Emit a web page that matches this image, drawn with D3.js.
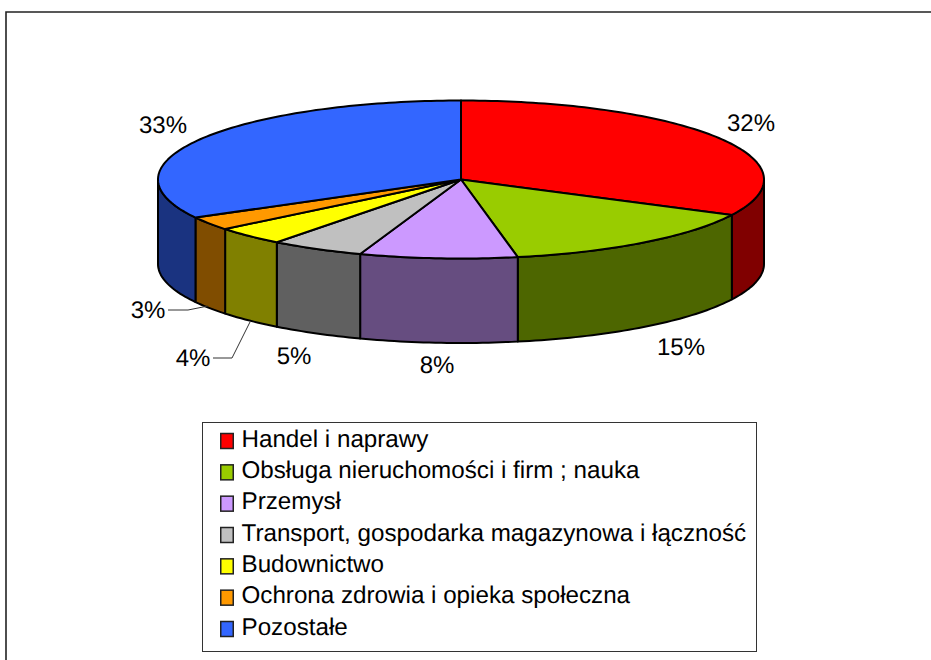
<!DOCTYPE html>
<html>
<head>
<meta charset="utf-8">
<script src="https://cdn.jsdelivr.net/npm/d3@7"></script>
<style>
html,body{margin:0;padding:0;background:#fff;overflow:hidden}
svg{display:block}
text{font-family:"Liberation Sans",Arial,sans-serif;fill:#000;text-rendering:geometricPrecision}
</style>
</head>
<body>
<svg id="chart" width="931" height="660"></svg>
<script>
// Data
const categories = ["Handel i naprawy","Obsługa nieruchomości i firm ; nauka","Przemysł","Transport, gospodarka magazynowa i łączność","Budownictwo","Ochrona zdrowia i opieka społeczna","Pozostałe"];
const values = [32.4,14.6,8.4,5.0,3.8,2.8,33.0];
const topColors = ["#ff0000","#99cc00","#cc99ff","#c0c0c0","#ffff00","#ff9900","#3366ff"];
const sideColors = ["#800000","#4d6600","#664d80","#606060","#808000","#804d00","#1a3380"];

// Layout, kept apart from the data
const W = 931, H = 660;
const cx = 461, cy = 179.5, rx = 303, ry = 79, depth = 84.5;
const labelPos = [[751,123],[681,347],[437,365],[294,356],[193,358],[148,310],[163,125]];
const leaders = {4:[[213,358],[232,358],[250,322]],5:[[168,310],[188,310],[208,306]]};
const legendBox = {x:202.5,y:422.5,w:554,h:229};

const svg = d3.select("#chart");
svg.append("rect").attr("width",W).attr("height",H).attr("fill","#fff");

// Outer frame (open at right and bottom edges of the picture)
svg.append("path").attr("d",d3.line()([[6,H+2],[6,12],[W+2,12]]))
  .attr("fill","none").attr("stroke","#222").attr("stroke-width",1.6);

const x = d3.scaleLinear().domain([-1,1]).range([cx-rx,cx+rx]);
const y = d3.scaleLinear().domain([-1,1]).range([cy-ry,cy+ry]);
const pt = (a,dz=0)=>[x(Math.sin(a)),y(-Math.cos(a))+dz];
const arcPts = (a0,a1,dz=0)=>{
  const n = Math.max(2,Math.ceil(Math.abs(a1-a0)/0.02));
  return d3.range(n+1).map(i=>pt(a0+(a1-a0)*i/n,dz));
};
const line = d3.line();

const arcs = d3.pie().sort(null).value(d=>d)(values);
const g = svg.append("g").attr("stroke","#000").attr("stroke-width",2).attr("stroke-linejoin","round");

// Side walls: only the front half of the rim shows
const hp = Math.PI/2, thp = 3*Math.PI/2;
g.selectAll("path.side").data(arcs).join("path").attr("class","side")
  .attr("fill",(d,i)=>sideColors[i])
  .attr("d",d=>{
    const a0=Math.max(d.startAngle,hp), a1=Math.min(d.endAngle,thp);
    if(a1<=a0) return null;
    return line(arcPts(a0,a1).concat(arcPts(a1,a0,depth)))+"Z";
  });

// Top faces
g.selectAll("path.top").data(arcs).join("path").attr("class","top")
  .attr("fill",(d,i)=>topColors[i])
  .attr("d",d=>line([[cx,cy]].concat(arcPts(d.startAngle,d.endAngle)))+"Z");

// Leader lines
Object.values(leaders).forEach(p=>{
  svg.append("path").attr("d",line(p)).attr("fill","none").attr("stroke","#333").attr("stroke-width",1);
});

// Percent labels
svg.selectAll("text.pct").data(arcs).join("text").attr("class","pct")
  .attr("x",(d,i)=>labelPos[i][0]).attr("y",(d,i)=>labelPos[i][1])
  .attr("text-anchor","middle").attr("dominant-baseline","central")
  .attr("font-size",24)
  .text(d=>Math.round(d.value)+"%");

// Legend
svg.append("rect").attr("x",legendBox.x).attr("y",legendBox.y)
  .attr("width",legendBox.w).attr("height",legendBox.h)
  .attr("fill","#fff").attr("stroke","#333").attr("stroke-width",1);
const rows = d3.scalePoint().domain(d3.range(categories.length)).range([439,627]);
const row = svg.selectAll("g.row").data(categories).join("g").attr("class","row")
  .attr("transform",(d,i)=>`translate(0,${rows(i)})`);
row.append("rect").attr("x",220.75).attr("y",-5.5).attr("width",12.5).attr("height",15)
  .attr("fill",(d,i)=>topColors[i]).attr("stroke","#222").attr("stroke-width",1.5);
row.append("text").attr("x",241.5).attr("y",7.5).attr("font-size",24.2).text(d=>d);
</script>
</body>
</html>
